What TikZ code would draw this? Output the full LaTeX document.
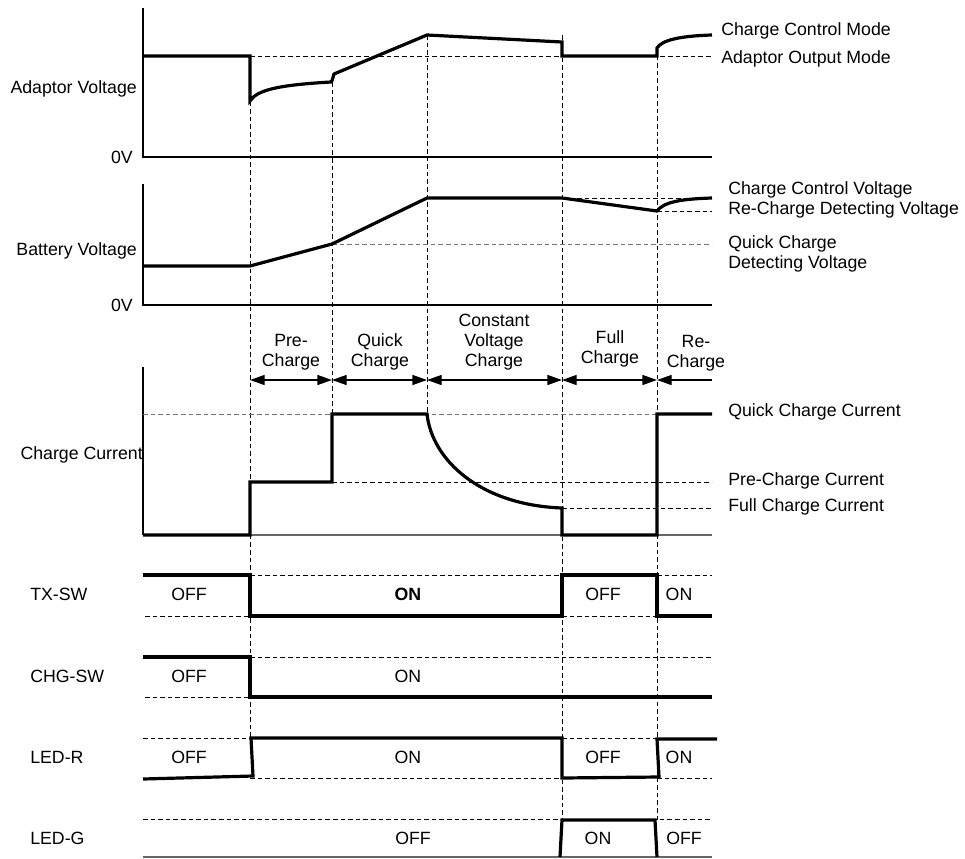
\documentclass[tikz,border=0pt]{standalone}
\usepackage{fontspec}
\setmainfont{Liberation Sans}
\usetikzlibrary{arrows.meta}

\begin{document}
\begin{tikzpicture}[x=0.75pt,y=-0.75pt,
	font=\fontsize{13.3}{15}\selectfont,
	every node/.style={inner sep=0pt},
	signal/.style={line width=2.4pt},
	axis/.style={line width=0.8pt},
	baseline/.style={line width=0.8pt, black!60},
	guide/.style={line width=0.6pt, dash pattern=on 3.5pt off 2.2pt},
	greyguide/.style={guide, black!55},
	phase/.style={line width=1pt, {Triangle[length=11pt,width=7.5pt]}-{Triangle[length=11pt,width=7.5pt]}},
	phaseend/.style={line width=1pt, {Triangle[length=11pt,width=7.5pt]}-},
	leftlabel/.style={anchor=east},
	rowlabel/.style={anchor=west},
	rightlabel/.style={anchor=west, align=left},
	phaselabel/.style={align=center}]
	
	\useasboundingbox (0,0) rectangle (965,858);
	
	% Vertical time marks
	\draw[guide] (250,56) -- (250,738);
	\draw[guide] (332,82) -- (332,414);
	\draw[guide] (427,35) -- (427,414);
	\draw[guide] (562,35) -- (562,820);
	\draw[guide] (657,48) -- (657,820);
	
	% Adaptor voltage
	\draw[axis] (143,8) -- (143,157) -- (712,157);
	\node[leftlabel] (zeroadapt) at (133,157) {0V};
	\node[leftlabel] (adapt) at (137,89) {Adaptor Voltage};
	\draw[guide] (250,56) -- (712,56);
	\draw[signal] (143,56) -- (250,56) -- (250,101)
		.. controls (257,90) and (278,85) .. (331,82)
		.. controls (333,80) and (333,76) .. (334,74) -- (427,35) -- (562,42)
		-- (562,56) -- (657,56) -- (657,48)
		.. controls (662,40) and (680,36) .. (712,35);
	\node[rightlabel] (ccmode) at (721,31) {Charge Control Mode};
	\node[rightlabel] (aomode) at (721,59) {Adaptor Output Mode};
	
	% Battery voltage
	\draw[axis] (143,184) -- (143,305) -- (712,305);
	\node[leftlabel] (zerobatt) at (133,305) {0V};
	\node[leftlabel] (batt) at (137,251) {Battery Voltage};
	\draw[guide] (562,198) -- (712,198);
	\draw[guide] (657,211) -- (712,211);
	\draw[greyguide] (332,244) -- (712,244);
	\draw[signal] (143,266) -- (250,266) -- (332,244) -- (427,198) -- (562,198)
		-- (657,211) .. controls (664,202) and (680,199) .. (712,198);
	\node[rightlabel] (ccvolt) at (728,190) {Charge Control Voltage};
	\node[rightlabel] (rcvolt) at (728,210) {Re-Charge Detecting Voltage};
	\node[rightlabel] (qcvolt) at (728,254) {Quick Charge\\Detecting Voltage};
	
	% Charge phases
	\draw[phase] (250,380) -- (332,380);
	\draw[phase] (332,380) -- (427,380);
	\draw[phase] (427,380) -- (562,380);
	\draw[phase] (562,380) -- (657,380);
	\draw[phaseend] (657,380) -- (712,380);
	\node[phaselabel] (prephase) at (291,352) {Pre-\\Charge};
	\node[phaselabel] (quickphase) at (380,352) {Quick\\Charge};
	\node[phaselabel] (cvphase) at (494,342) {Constant\\Voltage\\Charge};
	\node[phaselabel] (fullphase) at (610,349) {Full\\Charge};
	\node[phaselabel] (rephase) at (696,353) {Re-\\Charge};
	
	% Charge current
	\draw[axis] (143,367) -- (143,535);
	\draw[baseline] (143,535) -- (712,535);
	\node[leftlabel] (curr) at (143,455) {Charge Current};
	\draw[greyguide] (143,414) -- (712,414);
	\draw[guide] (332,482) -- (712,482);
	\draw[guide] (562,508) -- (712,508);
	\draw[signal] (143,535) -- (250,535) -- (250,482) -- (332,482) -- (332,414)
		-- (427,414) .. controls (432,460) and (480,505) .. (562,508)
		-- (562,535) -- (657,535) -- (657,414) -- (712,414);
	\node[rightlabel] (qccurr) at (728,412) {Quick Charge Current};
	\node[rightlabel] (pccurr) at (728,481) {Pre-Charge Current};
	\node[rightlabel] (fccurr) at (728,507) {Full Charge Current};
	
	% TX-SW
	\node[rowlabel] (txsw) at (30,594) {TX-SW};
	\draw[guide] (250,575) -- (562,575);
	\draw[guide] (657,575) -- (712,575);
	\draw[guide] (145,616) -- (250,616);
	\draw[guide] (562,616) -- (657,616);
	\draw[signal] (143,575) -- (250,575) -- (250,616) -- (562,616) -- (562,575)
		-- (657,575) -- (657,616) -- (712,616);
	\node (txoffa) at (189,594) {OFF};
	\node (txona) at (408,594) {\textbf{ON}};
	\node (txoffb) at (603,594) {OFF};
	\node (txonb) at (679,594) {ON};
	
	% CHG-SW
	\node[rowlabel] (chgsw) at (30,676) {CHG-SW};
	\draw[guide] (250,657) -- (712,657);
	\draw[guide] (145,697) -- (250,697);
	\draw[signal] (143,657) -- (250,657) -- (250,697) -- (712,697);
	\node (chgoff) at (189,676) {OFF};
	\node (chgon) at (408,676) {ON};
	
	% LED-R
	\node[rowlabel] (ledr) at (30,757) {LED-R};
	\draw[guide] (143,738) -- (250,738);
	\draw[guide] (562,738) -- (712,738);
	\draw[guide] (250,778) -- (562,778);
	\draw[guide] (657,778) -- (712,778);
	\draw[signal] (143,779) -- (253,776) -- (251,738) -- (562,738) -- (562,778)
		-- (659,777) -- (657,739) -- (717,739);
	\node (roffa) at (189,757) {OFF};
	\node (rona) at (408,757) {ON};
	\node (roffb) at (603,757) {OFF};
	\node (ronb) at (679,757) {ON};
	
	% LED-G
	\node[rowlabel] (ledg) at (30,838) {LED-G};
	\draw[guide] (143,819) -- (712,819);
	\draw[baseline] (143,857) -- (712,857);
	\draw[signal] (560,857) -- (562,820) -- (655,820) -- (657,857);
	\node (goffa) at (413,838) {OFF};
	\node (gon) at (598,838) {ON};
	\node (goffb) at (684,838) {OFF};
\end{tikzpicture}
\end{document}
